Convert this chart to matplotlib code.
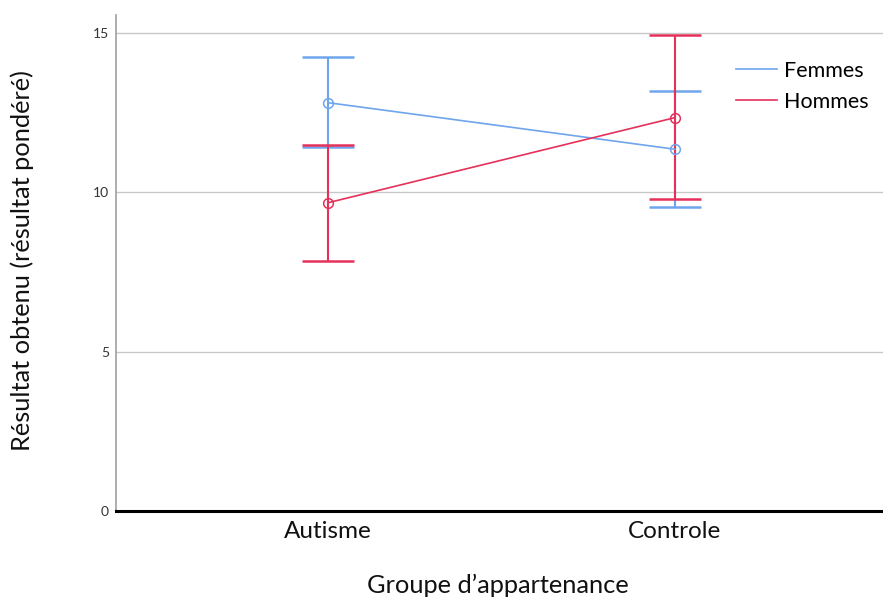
import matplotlib
matplotlib.use("Agg")
import matplotlib.pyplot as plt
import numpy as np

categories = ["Autisme", "Controle"]
series = ["Femmes", "Hommes"]
femmes_mean = [12.81, 11.35]
femmes_low = [11.42, 9.54]
femmes_high = [14.24, 13.18]
hommes_mean = [9.67, 12.34]
hommes_low = [7.85, 9.79]
hommes_high = [11.48, 14.93]
colors = ["#6fa5ec", "#e5315a"]
yticks = [0, 5, 10, 15]

plt.rcParams['font.family'] = ['Lato', 'DejaVu Sans']

W, H = 883, 599
fig = plt.figure(figsize=(W/100, H/100), dpi=100)
ax = fig.add_axes([116/W, 1-511/H, 1-116/W, (511-15)/H])

x = np.arange(len(categories))
for name, m, lo, hi, c in [("Femmes", femmes_mean, femmes_low, femmes_high, colors[0]),
                           ("Hommes", hommes_mean, hommes_low, hommes_high, colors[1])]:
    m = np.array(m); lo = np.array(lo); hi = np.array(hi)
    ax.errorbar(x, m, yerr=[m - lo, hi - m], fmt='none', ecolor=c, elinewidth=1.5,
                capsize=18.5, capthick=1.8, zorder=3)
    ax.plot(x, m, color=c, lw=1.2, marker='o', markersize=7, markerfacecolor='none',
            markeredgewidth=1.1, label=name, zorder=4)

ax.set_xlim(-0.611, 1.6)
ax.set_ylim(0, 15.56)
ax.set_yticks(yticks)
ax.set_yticklabels([str(t) for t in yticks], fontsize=10, color='#333333')
ax.set_xticks(x)
ax.set_xticklabels(categories, fontsize=17.5, color='#111111')
ax.tick_params(axis='both', length=0)
ax.tick_params(axis='y', pad=5)
ax.tick_params(axis='x', pad=7)
ax.grid(axis='y', color='#c8c8c8', lw=1)
ax.set_axisbelow(True)
for s in ['top', 'right']:
    ax.spines[s].set_visible(False)
ax.spines['left'].set_color('#a0a0a0')
ax.spines['left'].set_linewidth(1.2)
ax.spines['bottom'].set_color('black')
ax.spines['bottom'].set_linewidth(2.2)

ax.set_ylabel("Résultat obtenu (résultat pondéré)", fontsize=18.3, color='#111111')
ax.yaxis.label.set_va('center')
ax.yaxis.set_label_coords((22-116)/767, (511 - 261)/496)
ax.set_xlabel("Groupe d’appartenance", fontsize=18.3, color='#111111')
ax.xaxis.label.set_va('center')
ax.xaxis.set_label_coords((498-116)/767, (511-585)/496)

leg = ax.legend(loc='upper left', bbox_to_anchor=(725/W, 1-50/H),
                bbox_transform=fig.transFigure, frameon=False, fontsize=15.5,
                handlelength=1.9, handletextpad=0.35, labelspacing=0.5,
                borderpad=0)
for h in leg.legend_handles:
    h.set_marker('')

fig.savefig("out.png", dpi=100)
